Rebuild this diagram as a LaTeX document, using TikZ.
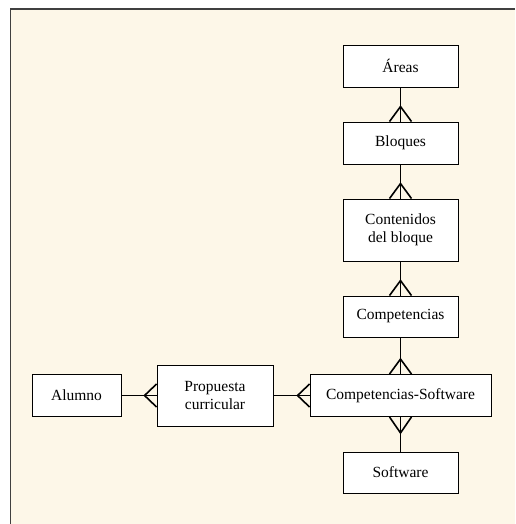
\documentclass[tikz,border=0pt]{standalone}
\usepackage{fontspec}
\setmainfont{Liberation Serif}
\usepackage{xcolor}
\definecolor{paper}{RGB}{253,247,232}

\begin{document}
\begin{tikzpicture}[x=1pt,y=-1pt,
    entity/.style={draw, fill=white, line width=0.9pt, align=center, inner sep=0pt,
      font=\fontsize{15.5}{18.5}\selectfont},
    rel/.style={line width=1.6pt}]
    \useasboundingbox (0,0) rectangle (515,524);
    % Sheet
    \fill[white] (0,0) rectangle (515,524);
    \fill[paper] (10.5,9) rectangle (515,524);
    \draw[line width=1.2pt, black!75] (10.5,524) -- (10.5,9) -- (515,9);
    % Entities
    \node[entity, minimum width=115, minimum height=42] (areas) at (400.5,66) {Áreas};
    \node[entity, minimum width=115, minimum height=42] (bloques) at (400.5,143) {Bloques};
    \node[entity, minimum width=115, minimum height=62] (contenidos) at (400.5,230) {Contenidos\\del bloque};
    \node[entity, minimum width=115, minimum height=41] (competencias) at (400.5,316.5) {Competencias};
    \node[entity, minimum width=181, minimum height=42] (compsoft) at (400.5,395.5) {Competencias-Software};
    \node[entity, minimum width=115, minimum height=41] (software) at (400.5,472.5) {Software};
    \node[entity, minimum width=89, minimum height=42] (alumno) at (76.5,395.5) {Alumno};
    \node[entity, minimum width=116, minimum height=61] (propuesta) at (215,395.5) {Propuesta\\curricular};
    % Areas - Bloques
    \draw[rel] (areas) -- (bloques);
    \draw[rel] ([xshift=-11pt]bloques.north) -- ([yshift=15pt]bloques.north) -- ([xshift=11pt]bloques.north);
    % Bloques - Contenidos
    \draw[rel] (bloques) -- (contenidos);
    \draw[rel] ([xshift=-11pt]contenidos.north) -- ([yshift=15pt]contenidos.north) -- ([xshift=11pt]contenidos.north);
    % Contenidos - Competencias
    \draw[rel] (contenidos) -- (competencias);
    \draw[rel] ([xshift=-11pt]competencias.north) -- ([yshift=15pt]competencias.north) -- ([xshift=11pt]competencias.north);
    % Competencias - Competencias-Software
    \draw[rel] (competencias) -- (compsoft);
    \draw[rel] ([xshift=-11pt]compsoft.north) -- ([yshift=15pt]compsoft.north) -- ([xshift=11pt]compsoft.north);
    % Software - Competencias-Software
    \draw[rel] (compsoft) -- (software);
    \draw[rel] ([xshift=-11pt]compsoft.south) -- ([yshift=-16pt]compsoft.south) -- ([xshift=11pt]compsoft.south);
    % Propuesta - Competencias-Software
    \draw[rel] (propuesta) -- (compsoft);
    \draw[rel] ([yshift=11.5pt]compsoft.west) -- ([xshift=-12pt]compsoft.west) -- ([yshift=-11.5pt]compsoft.west);
    % Alumno - Propuesta
    \draw[rel] (alumno) -- (propuesta);
    \draw[rel] ([yshift=11.5pt]propuesta.west) -- ([xshift=-12pt]propuesta.west) -- ([yshift=-11.5pt]propuesta.west);
\end{tikzpicture}
\end{document}
